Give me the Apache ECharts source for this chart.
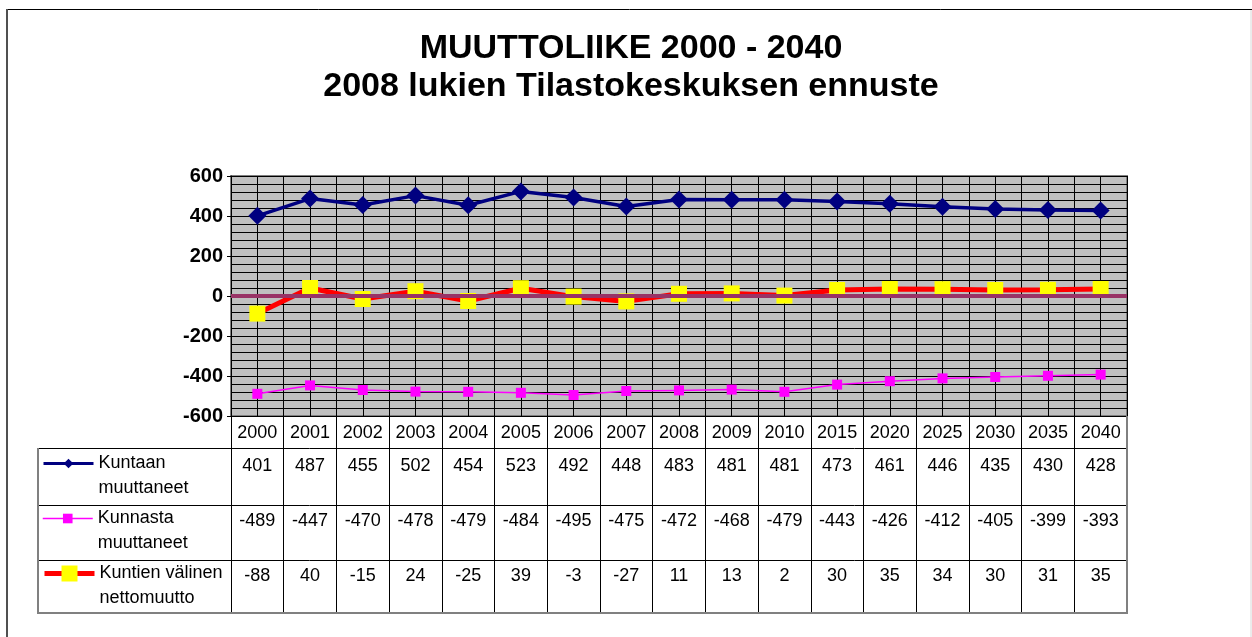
<!DOCTYPE html>
<html>
<head>
<meta charset="utf-8">
<script src="https://cdn.jsdelivr.net/npm/echarts@6/dist/echarts.min.js"></script>
<style>
html, body { margin: 0; padding: 0; background: #fff; }
#chart { width: 1252px; height: 637px; }
</style>
</head>
<body>
<div id="chart"></div>
<script>
// data
const years = ['2000', '2001', '2002', '2003', '2004', '2005', '2006', '2007', '2008',
  '2009', '2010', '2015', '2020', '2025', '2030', '2035', '2040'];
const kuntaan = [401, 487, 455, 502, 454, 523, 492, 448, 483, 481, 481, 473, 461, 446, 435, 430, 428];
const kunnasta = [-489, -447, -470, -478, -479, -484, -495, -475, -472, -468, -479, -443, -426, -412, -405, -399, -393];
const netto = [-88, 40, -15, 24, -25, 39, -3, -27, 11, 13, 2, 30, 35, 34, 30, 31, 35];

const seriesNames = ['Kuntaan muuttaneet', 'Kunnasta muuttaneet', 'Kuntien välinen nettomuutto'];
const legendLines = [['Kuntaan', 'muuttaneet'], ['Kunnasta', 'muuttaneet'], ['Kuntien välinen', 'nettomuutto']];
const yMin = -600, yMax = 600, yStep = 200;

const FONT = 'Arial, "Liberation Sans", sans-serif';
const chart = echarts.init(document.getElementById('chart'));

// one legend per table row; an empty first line keeps the first real line level with the icon
function rowLegend(i, top, itemHeight, lineWidth) {
  return {
    data: [seriesNames[i]],
    left: 42,
    top: top,
    padding: 0,
    itemWidth: 50,
    itemHeight: itemHeight,
    selectedMode: false,
    lineStyle: { width: lineWidth },
    formatter: () => '{t| }\n{t|' + legendLines[i][0] + '}\n{t|' + legendLines[i][1] + '}',
    textStyle: {
      fontFamily: FONT, fontSize: 18, color: '#000',
      rich: { t: { fontFamily: FONT, fontSize: 18, lineHeight: 25, color: '#000' } }
    }
  };
}

function hLine(x1, y1, x2, y2, color, w) {
  return {
    type: 'line', z: 100, silent: true,
    shape: { x1: x1, y1: y1, x2: x2, y2: y2 },
    style: { stroke: color, lineWidth: w }
  };
}

const option = {
  animation: false,
  backgroundColor: '#fff',
  title: {
    text: 'MUUTTOLIIKE 2000 - 2040\n2008 lukien Tilastokeskuksen ennuste',
    left: 631,
    textAlign: 'center',
    top: 30,
    padding: 0,
    textStyle: { fontFamily: FONT, fontSize: 34, fontWeight: 'bold', lineHeight: 38, color: '#000' }
  },
  legend: [
    rowLegend(0, 429.5, 12, 3),
    rowLegend(1, 484.5, 12, 1.5),
    rowLegend(2, 539.5, 20, 5)
  ],
  grid: {
    left: 231, right: 125, top: 176, bottom: 221,
    show: true, backgroundColor: '#C0C0C0', borderColor: '#808080', borderWidth: 2
  },
  xAxis: [
    {
      type: 'category',
      data: years,
      axisLine: { onZero: false, lineStyle: { color: '#000', width: 1 } },
      axisTick: { show: true, length: 197, lineStyle: { color: '#000', width: 1 } },
      splitLine: { show: false },
      axisLabel: {
        interval: 0,
        margin: 1,
        formatter: (val, idx) =>
          '{y|' + val + '}\n{a|' + kuntaan[idx] + '}\n{b|' + kunnasta[idx] + '}\n{c|' + netto[idx] + '}',
        rich: {
          y: { fontFamily: FONT, fontSize: 18, color: '#000', lineHeight: 32 },
          a: { fontFamily: FONT, fontSize: 18, color: '#000', lineHeight: 34 },
          b: { fontFamily: FONT, fontSize: 18, color: '#000', lineHeight: 76 },
          c: { fontFamily: FONT, fontSize: 18, color: '#000', lineHeight: 34 }
        }
      }
    },
    {
      // only for the vertical grid lines at every half category
      type: 'value',
      min: 0, max: years.length * 2, interval: 1,
      axisLine: { show: false }, axisTick: { show: false }, axisLabel: { show: false },
      splitLine: { show: true, lineStyle: { color: '#000', width: 1 } }
    }
  ],
  yAxis: {
    type: 'value',
    min: yMin, max: yMax, interval: yStep,
    axisLine: { show: true, lineStyle: { color: '#000', width: 1 } },
    axisTick: { show: true, length: 4, lineStyle: { color: '#000' } },
    axisLabel: { fontFamily: FONT, fontSize: 20, fontWeight: 'bold', color: '#000', margin: 8 },
    splitLine: { show: true, lineStyle: { color: '#000', width: 1 } },
    minorTick: { show: false, splitNumber: 5 },
    minorSplitLine: { show: true, lineStyle: { color: '#000', width: 1 } }
  },
  series: [
    {
      name: seriesNames[0],
      type: 'line',
      data: kuntaan,
      symbol: 'diamond',
      symbolSize: 18,
      itemStyle: { color: '#000080', borderWidth: 0 },
      lineStyle: { color: '#000080', width: 3.5 },
      markLine: {
        silent: true,
        symbol: 'none',
        label: { show: false },
        lineStyle: { color: '#993366', width: 4, type: 'solid' },
        data: [{ yAxis: 0 }]
      }
    },
    {
      name: seriesNames[1],
      type: 'line',
      data: kunnasta,
      symbol: 'rect',
      symbolSize: 10,
      itemStyle: { color: '#FF00FF', borderWidth: 0 },
      lineStyle: { color: '#FF00FF', width: 1.5 }
    },
    {
      name: seriesNames[2],
      type: 'line',
      data: netto,
      symbol: 'rect',
      symbolSize: 16,
      itemStyle: { color: '#FFFF00', borderWidth: 0 },
      lineStyle: { color: '#FF0000', width: 5 }
    }
  ],
  graphic: [
    // table rows
    hLine(37, 448.5, 1127, 448.5, '#000', 1),
    hLine(37, 505.5, 1127, 505.5, '#000', 1),
    hLine(37, 560.5, 1127, 560.5, '#000', 1),
    hLine(37, 613, 1128, 613, '#808080', 2),
    hLine(38, 448, 38, 614, '#808080', 2),
    hLine(1127, 416, 1127, 614, '#808080', 2),
    // outer frame
    hLine(7, 9.5, 1252, 9.5, '#000', 1),
    hLine(7, 9, 7, 637, '#505050', 2),
    hLine(1251, 10, 1251, 637, '#d8d8d8', 1)
  ]
};

chart.setOption(option);
</script>
</body>
</html>
